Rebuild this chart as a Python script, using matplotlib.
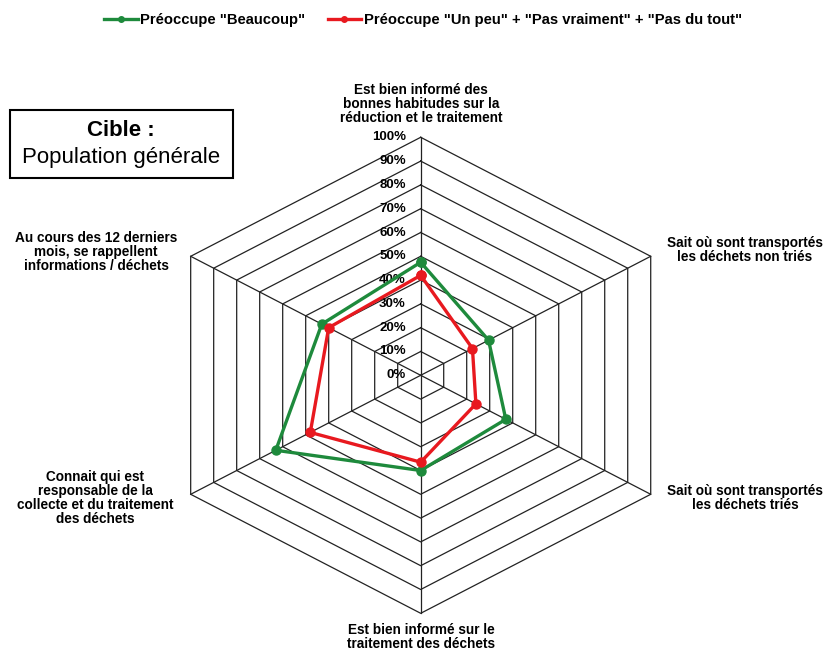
import numpy as np
import matplotlib.pyplot as plt

# Axes du radar (sens horaire depuis le haut)
categories = [
    "Est bien informé des\nbonnes habitudes sur la\nréduction et le traitement",
    "Sait où sont transportés\nles déchets non triés",
    "Sait où sont transportés\nles déchets triés",
    "Est bien informé sur le\ntraitement des déchets",
    "Connait qui est\nresponsable de la\ncollecte et du traitement\ndes déchets",
    "Au cours des 12 derniers\nmois, se rappellent\ninformations / déchets",
]
beaucoup = [47.5, 29.5, 37, 40, 63, 43]
un_peu = [42, 22.5, 24, 36.5, 48, 40]
ticks = [0, 10, 20, 30, 40, 50, 60, 70, 80, 90, 100]

GREEN = "#1e8a3c"
RED = "#e8191f"
FONT = ["Liberation Sans", "DejaVu Sans"]
plt.rcParams["font.family"] = FONT

# étirement horizontal du graphique d'origine
SX = 265.6 / 238.0


def xy(vals):
    n = len(vals)
    ang = np.pi / 2 - np.arange(n) * 2 * np.pi / n
    v = np.asarray(vals, dtype=float) / 100.0
    return v * np.cos(ang) * SX, v * np.sin(ang)


fig = plt.figure(figsize=(8.30, 6.51), dpi=100)
ax = fig.add_axes([0, 0, 1, 1])
ax.set_xlim(-420.7 / 238.0, (830 - 420.7) / 238.0)
ax.set_ylim(-(651 - 375.3) / 238.0, 375.3 / 238.0)
ax.axis("off")

# grille hexagonale
for t in ticks[1:]:
    x, y = xy([t] * 6)
    ax.plot(np.append(x, x[0]), np.append(y, y[0]), color="#222222", lw=0.9, zorder=1)
ox, oy = xy([100] * 6)
for i in range(6):
    ax.plot([0, ox[i]], [0, oy[i]], color="#222222", lw=0.9, zorder=1)

# étiquettes de pourcentage
for t in ticks:
    ax.text(-15 / 238.0, t / 100.0, f"{t}%", ha="right", va="center",
            fontsize=9.5, fontweight="bold", zorder=2)

# séries
for vals, col in [(beaucoup, GREEN), (un_peu, RED)]:
    x, y = xy(vals)
    ax.plot(np.append(x, x[0]), np.append(y, y[0]), color=col, lw=2.4,
            marker="o", markersize=6.5, zorder=3)

# libellés des axes (positions en pixels de l'original)
label_pos = [(421, 104), (745, 250), (745, 498),
             (421, 637), (95, 498), (96, 252)]
for lab, (px, py) in zip(categories, label_pos):
    ax.text((px - 420.7) / 238.0, (375.3 - py) / 238.0, lab, ha="center", va="center",
            fontsize=9.8, fontweight="bold", linespacing=1.0)

# encadré "Cible"
fig.patches.append(plt.Rectangle((10 / 830, 1 - 178 / 651), 223 / 830, 68 / 651,
                                 transform=fig.transFigure, fill=False,
                                 edgecolor="black", lw=1.5))
fig.text(121 / 830, 1 - 131 / 651, "Cible :", ha="center", va="center",
         fontsize=16, fontweight="bold")
fig.text(121 / 830, 1 - 157 / 651, "Population générale", ha="center", va="center",
         fontsize=16)

# légende
ax.legend(
    [plt.Line2D([], [], color=GREEN, lw=2.4, marker="o", markersize=4),
     plt.Line2D([], [], color=RED, lw=2.4, marker="o", markersize=4)],
    ['Préoccupe "Beaucoup"', 'Préoccupe "Un peu" + "Pas vraiment" + "Pas du tout"'],
    loc="center", bbox_to_anchor=(423 / 830, 1 - 20 / 651), bbox_transform=fig.transFigure,
    ncol=2, frameon=False, handlelength=2.3, handletextpad=0.15, columnspacing=1.5,
    borderpad=0, prop={"size": 10.6, "weight": "bold"},
)

fig.savefig("out.png", dpi=100)
